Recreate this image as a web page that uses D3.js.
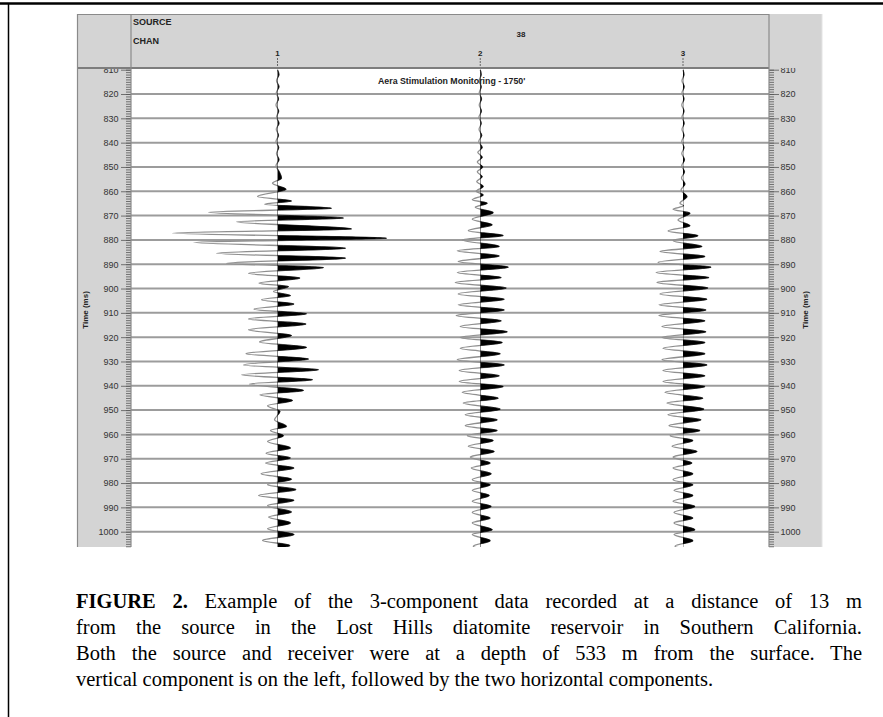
<!DOCTYPE html>
<html><head><meta charset="utf-8">
<script src="https://cdn.jsdelivr.net/npm/d3@7"></script>
<style>body{margin:0;background:#fff}svg{display:block}</style>
</head><body>
<svg id="c" width="883" height="717"></svg>
<script>
// ---------------- data ----------------
const channels = [1, 2, 3];
const sourceLabel = "38";
const headerLabels = ["SOURCE", "CHAN"];
const plotTitle = "Aera Stimulation Monitoring - 1750'";
const axisTitle = "Time (ms)";
const timeTicks = [810,820,830,840,850,860,870,880,890,900,910,920,930,940,950,960,970,980,990,1000];

// [time (ms), amplitude] at each peak / trough
const trace1 = [[810,0],[812,1.5],[814.5,-1],[817,1.5],[819.5,-1.2],[822,1],[824.5,-1.5],[827,1.2],[829.5,-1],[832,1.5],[834.5,-1.2],[837,1],[839.5,-1.5],[842,1.2],[844.5,-1],[847,1.5],[849.5,-1.5],[852,1.8],
[854.6,4],[856.7,-5],[859.2,8.5],[862.2,-20],[864,14],[865.3,-13],[867,54],[868.6,-69],[871,66],[872.5,-41],[875.5,74],[877.2,-105],[879.3,109],[881,-84],[883.4,68],[885.5,-61],[887.5,68],[889.6,-51],[891.4,46],[893.7,-29],[895.7,22.5],[897.8,-18.5],[899.2,11],[901.2,-4],[902.9,13],[904.6,-16],[906.4,16.5],[908.5,-23.5],[910.4,29],[912.5,-29],[914.6,28.5],[917,-29],[919.3,14],[922,-18],[924.2,29],[926.8,-31.5],[929,31],[931.4,-34],[933.4,41],[935.5,-36],[937.5,35],[939.3,-28],[941.9,26],[943.7,-17.5],[946,15],[948.2,-10],[950.5,2.5],[954,-3],[956.7,9],[958.4,-7],[960.5,6],[962.9,-10],[965.6,13],[967.7,-11.5],[969.7,13],[971.8,-12],[973.8,16.5],[976.2,-16.5],[978.4,14],[980.7,-10],[982.7,18.5],[985.1,-19],[987.1,16.5],[989.3,-10],[991.9,14],[994,-9],[996.4,13],[998.8,-10],[1001.2,16.5],[1003.6,-15],[1005.7,12.5],[1007,-5]];

const trace2 = [[810,0],[812,1],[814.5,-1.2],[817,1],[819.5,-1],[822,1.3],[824.5,-1],[827,1.2],[829.5,-1.3],[832,1],[834.5,-1.2],[837,1.5],[839.5,-1.5],[842,2],[844,-2.5],[846,2],[848,-3],[850,2.5],[852,-3],[854,2],[856,-3.5],[858,3],[860,-4],[861.5,3],
[863.5,-8],[864.9,7],[866.6,-5],[868.8,13],[871.5,-8],[873.8,12],[876.2,-12],[878.2,23],[880,-18],[882.7,19],[884.5,-23],[886.6,19],[888.9,-22],[891.2,28],[893.4,-23],[895.5,21],[897.5,-25],[899.8,26],[902.2,-22],[904.4,24],[906.7,-22],[908.8,24],[911.1,-24],[913.3,21],[915.6,-20],[917.8,27],[920.1,-20],[922.2,22],[924.6,-20],[926.8,20],[929.3,-23],[931.4,24],[933.7,-21],[935.9,19],[938.2,-21],[940.3,23],[942.7,-18],[945.1,18],[947.1,-17],[949.6,20],[951.9,-15],[954,17],[956.4,-15],[958.4,17],[960.5,-13],[962.5,13],[964.9,-12],[967,14],[969.3,-10],[971.8,10],[973.8,-9],[976.2,11],[978.6,-8],[980.7,10],[983,-8],[985.1,9],[987.5,-8],[989.6,11],[992.1,-8],[994.4,10],[996.4,-8],[999.2,12],[1001.2,-8],[1003.7,10],[1006,-7],[1007,0]];

const trace3 = [[810,0],[812,1],[814.5,-1],[817,1.2],[819.5,-1],[822,1],[824.5,-1.2],[827,1],[829.5,-1],[832,1.2],[834.5,-1],[837,1],[839.5,-1.2],[842,1],[844.5,-1.2],[847,1.5],[849.5,-1.2],[852,1.5],[854.5,-1.5],[857,2],[859.5,-2],
[862.2,4],[864.9,-3],[866,0.5],[867.4,-10],[869,7],[871.8,-5],[874.2,7],[876.3,-15],[878.3,15],[880.3,-10],[882.7,19],[884.8,-23],[886.8,22],[889.3,-25],[891.2,28],[893.4,-27],[895.5,26],[897.5,-26],[899.8,25],[902.2,-23],[904.4,24],[906.7,-24],[908.8,23],[911.1,-24],[913.3,22],[915.6,-21],[917.8,23],[920.1,-21],[922.2,22],[924.6,-20],[926.8,22],[929.3,-21],[931.4,24],[933.7,-20],[935.9,22],[938.2,-20],[940.3,22],[942.7,-18],[945.1,20],[947.1,-16],[949.6,21],[951.9,-15],[954,18],[956.4,-14],[958.4,17],[960.5,-13],[962.5,10],[964.9,-11],[967,14],[969.3,-10],[971.8,9],[973.8,-10],[976.2,10],[978.6,-10],[980.7,10],[983,-9],[985.1,10],[987.5,-10],[989.6,12],[992.1,-9],[994.4,10],[996.4,-9],[999.2,12],[1001.2,-9],[1003.7,10],[1006,-8],[1007,0]];

const traces = [trace1, trace2, trace3];

const captionBold = "FIGURE 2.";
const captionLines = [
  " Example of the 3-component data recorded at a distance of 13 m",
  "from the source in the Lost Hills diatomite reservoir in Southern California.",
  "Both the source and receiver were at a depth of 533 m from the surface. The",
  "vertical component is on the left, followed by the two horizontal components."
];

// ---------------- layout ----------------
const svg = d3.select("#c");
const P = {left: 77, axL: 131, axR: 769, right: 822, top: 14, hdr: 68, bottom: 547};
const y = d3.scaleLinear().domain([810, 1006.3]).range([69.7, 547]);
const xCh = d3.scaleLinear().domain([1, 3]).range([277.5, 683]);
const amp = d3.scaleLinear().domain([-100, 100]).range([-100, 100]);

// frame
svg.append("line").attr("x1",0).attr("x2",883).attr("y1",3.5).attr("y2",3.5).attr("stroke","#000").attr("stroke-width",2.5);
svg.append("line").attr("x1",8.5).attr("x2",8.5).attr("y1",3).attr("y2",717).attr("stroke","#000").attr("stroke-width",1.5);

// panel
svg.append("rect").attr("x",P.left).attr("y",P.top).attr("width",P.right-P.left).attr("height",P.bottom-P.top).attr("fill","#d4d4d4");
svg.append("rect").attr("x",P.axL).attr("y",P.hdr).attr("width",P.axR-P.axL).attr("height",P.bottom-P.hdr).attr("fill","#fff");

// grid
svg.append("g").selectAll("line").data(timeTicks.filter(t => t > 810)).join("line")
  .attr("x1",P.axL).attr("x2",P.axR).attr("y1",d=>y(d)).attr("y2",d=>y(d))
  .attr("stroke","#9c9c9c").attr("stroke-width",2);

// traces
const defs = svg.append("defs");
defs.append("clipPath").attr("id","dataClip").append("rect")
  .attr("x",P.axL).attr("y",P.hdr).attr("width",P.axR-P.axL).attr("height",P.bottom-P.hdr);
const tg = svg.append("g").attr("clip-path","url(#dataClip)");
traces.forEach((tr, i) => {
  const cx = xCh(channels[i]);
  defs.append("clipPath").attr("id","pos"+i).append("rect")
    .attr("x",cx).attr("y",P.hdr).attr("width",P.axR-cx).attr("height",P.bottom-P.hdr);
  const line = d3.line().x(d => cx + amp(d[1])).y(d => y(d[0])).curve(d3.curveMonotoneY);
  const area = d3.area().y(d => y(d[0])).x0(cx).x1(d => cx + amp(d[1])).curve(d3.curveMonotoneY);
  tg.append("path").attr("d", line(tr)).attr("fill","none").attr("stroke","#8f8f8f").attr("stroke-width",1.3);
  tg.append("path").attr("d", area(tr)).attr("fill","#000").attr("stroke","#000").attr("stroke-width",0.6)
    .attr("clip-path","url(#pos"+i+")");
});

// axes
const minorTicks = d3.range(810, 1007, 1);
const fmt = d3.format("d");
function styleAxis(g){ g.select(".domain").remove(); g.selectAll(".tick line").attr("stroke","#555").attr("stroke-width",0.8); }
svg.append("g").attr("transform",`translate(${P.axL},0)`)
  .call(d3.axisLeft(y).tickValues(minorTicks).tickSize(5).tickFormat("")).call(styleAxis);
svg.append("g").attr("transform",`translate(${P.axL},0)`)
  .call(d3.axisLeft(y).tickValues(timeTicks).tickSize(10).tickPadding(2.5).tickFormat(fmt)).call(styleAxis)
  .selectAll("text").attr("font-family","Liberation Sans, Arial, sans-serif").attr("font-size",9).attr("fill","#333");
svg.append("g").attr("transform",`translate(${P.axR},0)`)
  .call(d3.axisRight(y).tickValues(minorTicks).tickSize(5).tickFormat("")).call(styleAxis);
svg.append("g").attr("transform",`translate(${P.axR},0)`)
  .call(d3.axisRight(y).tickValues(timeTicks).tickSize(10).tickPadding(1.5).tickFormat(fmt)).call(styleAxis)
  .selectAll("text").attr("font-family","Liberation Sans, Arial, sans-serif").attr("font-size",9).attr("fill","#333");

// axis titles
[[88,-90],[808,-90]].forEach(([x,r]) => {
  svg.append("text").attr("transform",`translate(${x},310) rotate(${r})`).attr("text-anchor","middle")
    .attr("font-family","Liberation Sans, Arial, sans-serif").attr("font-size",8).attr("font-weight","bold").attr("fill","#222")
    .text(axisTitle);
});

// header
svg.append("rect").attr("x",P.left).attr("y",P.top).attr("width",P.right-P.left).attr("height",P.hdr-P.top).attr("fill","#d4d4d4");
svg.append("line").attr("x1",P.left).attr("x2",P.axR).attr("y1",P.top+0.5).attr("y2",P.top+0.5).attr("stroke","#8a8a8a").attr("stroke-width",1);
svg.append("line").attr("x1",P.left).attr("x2",P.axR).attr("y1",P.hdr).attr("y2",P.hdr).attr("stroke","#7d7d7d").attr("stroke-width",2.2);
[P.left+0.5, P.axL, P.axR].forEach(x => svg.append("line").attr("x1",x).attr("x2",x).attr("y1",P.top).attr("y2",P.bottom)
  .attr("stroke","#8a8a8a").attr("stroke-width",1.2));
svg.append("line").attr("x1",P.right).attr("x2",P.right).attr("y1",P.top).attr("y2",P.bottom).attr("stroke","#e4e4e4").attr("stroke-width",1);

const hf = "Liberation Sans, Arial, sans-serif";
headerLabels.forEach((s,i) => svg.append("text").attr("x",133).attr("y",[25,44][i]).attr("font-family",hf)
  .attr("font-size",9).attr("font-weight","bold").attr("fill","#222").text(s));
svg.append("text").attr("x",521).attr("y",37).attr("text-anchor","middle").attr("font-family",hf)
  .attr("font-size",8).attr("font-weight","bold").attr("fill","#222").text(sourceLabel);
channels.forEach(c => {
  svg.append("text").attr("x",xCh(c)).attr("y",55.5).attr("text-anchor","middle").attr("font-family",hf)
    .attr("font-size",8).attr("font-weight","bold").attr("fill","#222").text(c);
  svg.append("line").attr("x1",xCh(c)).attr("x2",xCh(c)).attr("y1",58).attr("y2",67)
    .attr("stroke","#666").attr("stroke-width",1).attr("stroke-dasharray","2,1");
});
svg.append("text").attr("x",378).attr("y",84).attr("font-family",hf).attr("font-size",8.8)
  .attr("font-weight","bold").attr("fill","#222").text(plotTitle);

// caption (serif, justified lines 1-3)
const capX = 76, capRight = 862, capY = [608, 634, 660, 686];
captionLines.forEach((ln, i) => {
  const t = svg.append("text").attr("x",capX).attr("y",capY[i])
    .attr("font-family","Liberation Serif, Times New Roman, serif").attr("font-size",20.5).attr("fill","#000")
    .attr("xml:space","preserve");
  if (i === 0) t.append("tspan").attr("font-weight","bold").text(captionBold);
  t.append("tspan").text(ln);
  if (i < 3) {
    const w = t.node().getComputedTextLength();
    const full = (i === 0 ? captionBold : "") + ln;
    const n = (full.match(/ /g) || []).length;
    t.attr("word-spacing", (capRight - capX - w) / n);
  }
});
</script>
</body></html>
